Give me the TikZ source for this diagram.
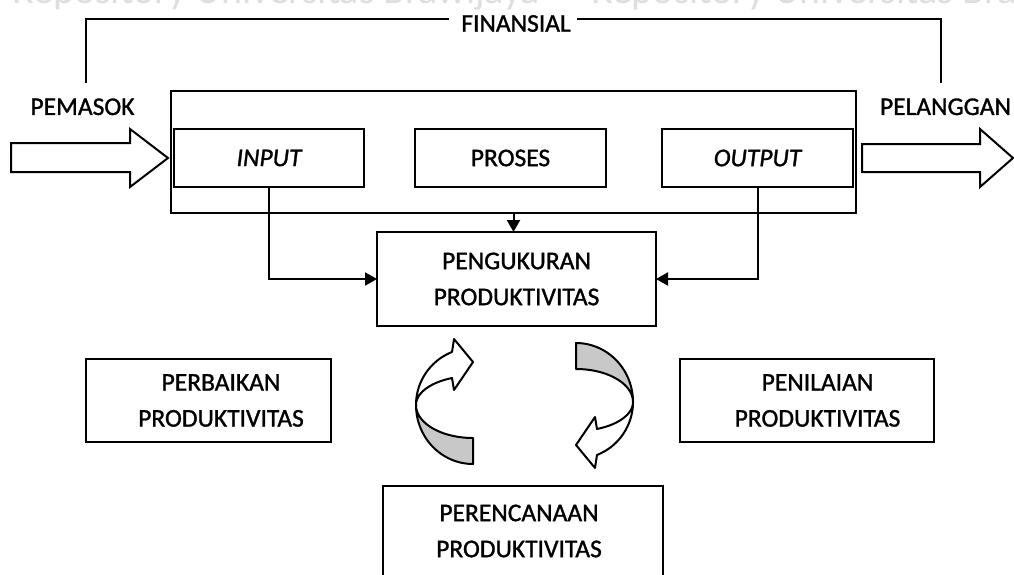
\documentclass[tikz,border=0pt]{standalone}
\usepackage{fontspec}
\setmainfont{Carlito}[RawFeature={embolden=1.2}]
\newfontfamily\wmfont{Carlito}
\usetikzlibrary{arrows.meta}
\definecolor{ribbon}{RGB}{200,200,200}
\definecolor{wmgray}{RGB}{222,222,222}
\tikzset{
  cyc/.pic={
    \filldraw[fill=ribbon, line width=2pt, line join=round]
      plot[domain=180:90, samples=40, variable=\t] ({57+57*cos(\t)},{59*sin(\t)})
      -- (57,33)
      -- plot[domain=90:180, samples=40, variable=\t] ({57+57*cos(\t)},{33*sin(\t)})
      -- cycle;
    \filldraw[fill=white, line width=2pt, line join=round]
      plot[domain=180:248.4, samples=40, variable=\t] ({57+57*cos(\t)},{57*sin(\t)})
      -- (38,-66) -- (57,-43) -- (38,-15)
      -- plot[domain=248.4:180, samples=40, variable=\t] ({57+57*cos(\t)},{29*sin(\t)})
      -- cycle;
  }
}
\begin{document}
\begin{tikzpicture}[x=1pt,y=-1pt,
  every node/.style={font=\fontsize{25.5}{36}\selectfont, inner sep=0pt, outer sep=0pt},
  box/.style={draw, line width=2pt, rectangle, align=center},
  lbl/.style={align=center},
  wm/.style={font=\wmfont\fontsize{40}{40}\selectfont, text=wmgray},
  conn/.style={line width=2pt, -{Triangle[length=12pt,width=13pt]}},
  plain/.style={line width=2pt},
  blockarrow/.style={draw, line width=2pt, fill=white},
]
\useasboundingbox (0,0) rectangle (1014,575);
\fill[white] (0,0) rectangle (1014,575);
\clip (0,0) rectangle (1014,575);

% watermark (cut by the top edge, as in the source)
\node[wm, anchor=base east] (wm1) at (540,4) {Repository Universitas Brawijaya};
\node[wm, anchor=base west] (wm2) at (591,4) {Repository Universitas Brawijaya};

% financial loop
\node[anchor=base] (fin) at (516,31.7) {FINANSIAL};
\coordinate (fl) at (449,19);
\coordinate (fr) at (577,19);
\coordinate (suppl) at (86,83);
\coordinate (cust) at (941,83);
\draw[plain] (suppl) |- (fl);
\draw[plain] (fr) -| (cust);

\node[anchor=base] (pemasok) at (82.5,115) {PEMASOK};
\node[anchor=base west] (pelanggan) at (880,115) {PELANGGAN};

% block arrows
\draw[blockarrow] (11,143) -- (130,143) -- (130,129) -- (168,158) -- (130,187) -- (130,172) -- (11,172) -- cycle;
\draw[blockarrow] (862,144) -- (980,144) -- (980,129) -- (1013,158) -- (980,187) -- (980,172) -- (862,172) -- cycle;

% system boxes
\node[box, minimum width=685pt, minimum height=122pt] (outer) at (513.5,152) {};
\node[box, minimum width=190pt, minimum height=58pt] (input) at (269,158) {\itshape INPUT};
\node[box, minimum width=191pt, minimum height=58pt] (proses) at (510.5,158) {PROSES};
\node[box, minimum width=191pt, minimum height=58pt] (output) at (757.5,158) {\itshape OUTPUT};

\node[box, minimum width=279pt, minimum height=94pt] (peng) at (516.5,279) {PENGUKURAN\\PRODUKTIVITAS};

\draw[conn] (outer.south) -- (outer.south |- peng.north);
\draw[conn] (input.south) |- (peng.west);
\draw[conn] (output.south) |- (peng.east);

% bottom boxes
\node[box, minimum width=245pt, minimum height=83pt] (perb) at (208.5,400.5) {};
\node[lbl] (perbt) at (221,400.5) {PERBAIKAN\\PRODUKTIVITAS};
\node[box, minimum width=254pt, minimum height=83pt] (peni) at (807,400.5) {};
\node[lbl] (penit) at (817.5,400.5) {PENILAIAN\\PRODUKTIVITAS};
\node[box, minimum width=280pt, minimum height=94pt] (renc) at (523,533) {};
\node[lbl] (renct) at (519,531) {PERENCANAAN\\PRODUKTIVITAS};

% cycle arrows
\pic at (416,405) {cyc};
\pic[rotate=180] at (633,402) {cyc};
\end{tikzpicture}
\end{document}
